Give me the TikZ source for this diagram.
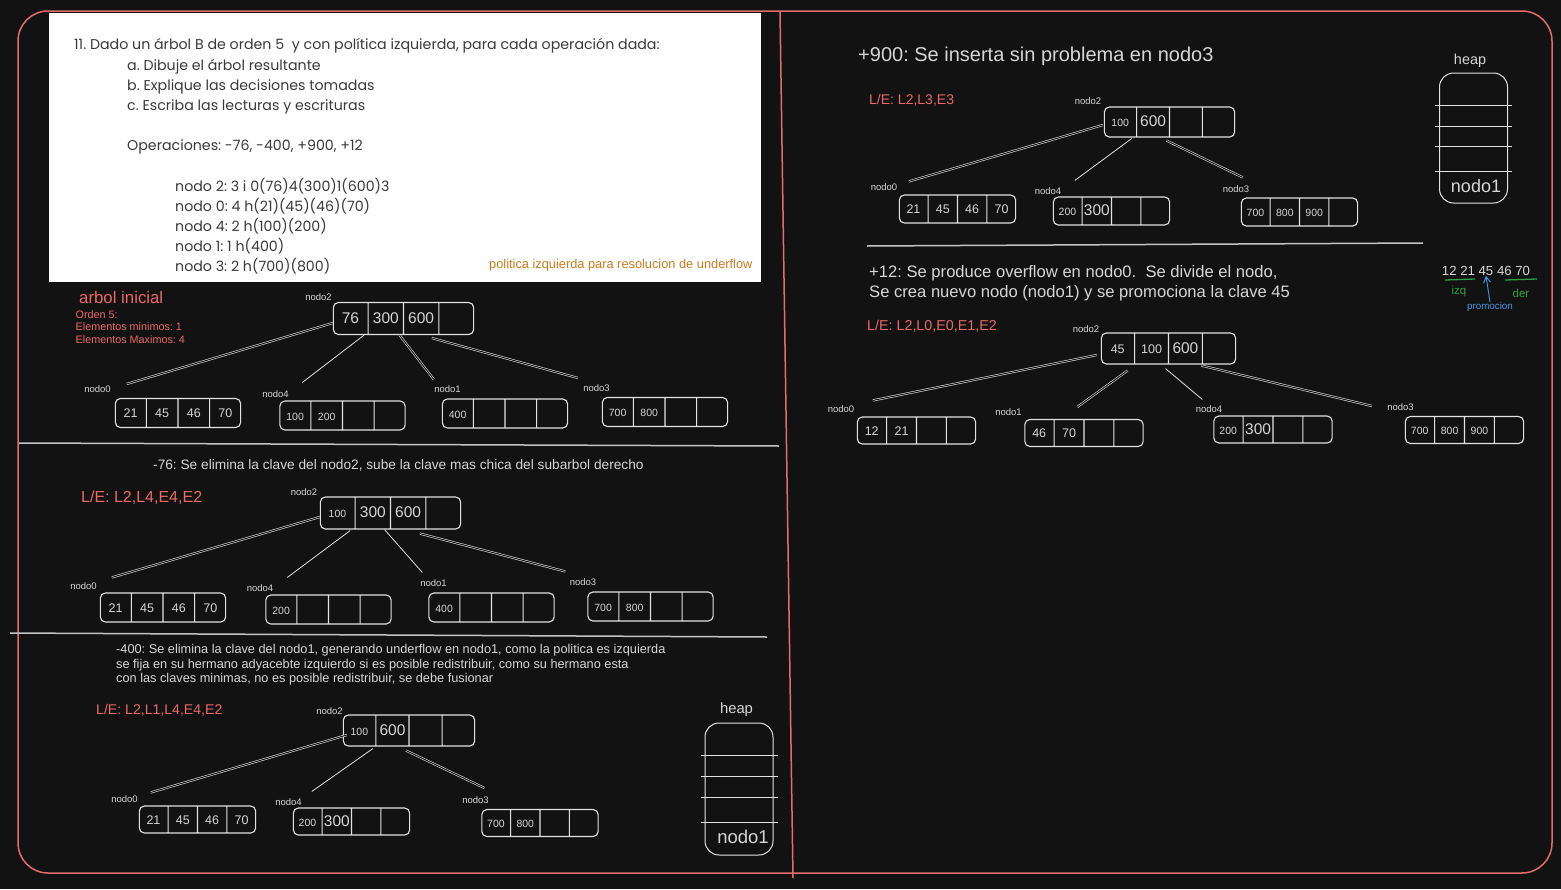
\documentclass[tikz,border=0pt]{standalone}
\usepackage{fontspec}
\setmainfont{Liberation Sans}
\newfontfamily\gotica{Poppins}
\usetikzlibrary{shapes.multipart,calc,arrows.meta}
\frenchspacing

\definecolor{fondo}{RGB}{18,18,18}
\definecolor{trazo}{RGB}{226,226,226}
\definecolor{texto}{RGB}{214,214,214}
\definecolor{rojo}{RGB}{236,104,104}
\definecolor{marcorojo}{RGB}{228,108,108}
\definecolor{verde}{RGB}{47,158,68}
\definecolor{azul}{RGB}{74,150,230}
\definecolor{naranja}{RGB}{204,122,30}
\definecolor{gris}{RGB}{58,58,58}

\newlength\anchoc
\newlength\altoc
% una celda del nodo: ancho y alto fijos, clave centrada
\newcommand{\pcl}[2]{\makebox[\anchoc]{\fontsize{#1}{#1}\selectfont #2}\rule[-\dimexpr0.5\altoc-4.5pt\relax]{0pt}{\altoc}}
\newcommand{\kn}[1]{\pcl{12.5}{#1}}
\newcommand{\kc}[1]{\pcl{10.5}{#1}}
\newcommand{\kg}[1]{\pcl{15.5}{#1}}
\newcommand{\claves}[4]{#1\nodepart{two}#2\nodepart{three}#3\nodepart{four}#4}

\begin{document}
\begin{tikzpicture}[x=1pt, y=-1pt,
    bnodo/.style={rectangle split, rectangle split horizontal,
      rectangle split parts=4, draw=trazo, line width=1.1pt,
      rounded corners=5pt, inner sep=0pt, text=texto},
    celda/.code 2 args={\setlength\anchoc{#1}\setlength\altoc{#2}},
    etiq/.style={text=texto, inner sep=0pt, font=\fontsize{9.5}{9.5}\selectfont},
    arista/.style={draw=trazo, line width=0.8pt},
    aristad/.style={draw=trazo, line width=0.6pt, double=fondo, double distance=1pt},
    rotulo/.style={text=rojo, anchor=west, inner sep=0pt},
    expl/.style={text=texto, anchor=west, inner sep=0pt},
    separa/.style={draw=trazo!85!fondo, line width=1.5pt},
    heapcaja/.style={draw=trazo, line width=1pt, rounded corners=14pt,
      minimum width=68pt, minimum height=132pt, inner sep=0pt},
    enun/.style={text=gris, anchor=west, inner sep=0pt,
      font=\gotica\fontsize{14.2}{20}\selectfont}]
  \useasboundingbox (0,0) rectangle (1561,889);
  \fill[fondo] (0,0) rectangle (1561,889);

  % enunciado
  \fill[white] (49,13) rectangle (761,282);
  \node[enun] (e11) at (74,46) {11. Dado un árbol B de orden 5\ \ y con política izquierda, para cada operación dada:};
  \foreach \y/\t in {67/a. Dibuje el árbol resultante, 87/b. Explique las decisiones tomadas, 107/c. Escriba las lecturas y escrituras}
    \node[enun] (inc\y) at (127,\y) {\t};
  \node[enun] (oper) at (127,147) {Operaciones: -76, -400, +900, +12};
  \foreach \y/\t in {186/nodo 2: 3 i 0(76)4(300)1(600)3, 206/nodo 0: 4 h(21)(45)(46)(70), 226/nodo 4: 2 h(100)(200), 246/nodo 1: 1 h(400), 266/nodo 3: 2 h(700)(800)}
    \node[enun] (reg\y) at (175,\y) {\t};
  \node[anchor=west, inner sep=0pt, text=naranja, font=\fontsize{12.8}{12.8}\selectfont] (polit) at (489,265) {politica izquierda para resolucion de underflow};

  % marco
  \draw[marcorojo, line width=1.5pt, rounded corners=30pt] (18,11) rectangle (1552,873);
  \draw[marcorojo, line width=1.5pt] (780,12) -- (793,878);

  % arbol inicial
  \node[rotulo, font=\fontsize{16.8}{16.8}\selectfont] (tini) at (79,297) {arbol inicial};
  \node[rotulo, anchor=north west, align=left, font=\fontsize{10.8}{12.5}\selectfont] (orden) at (75.5,310) {Orden 5:\\Elementos minimos: 1\\Elementos Maximos: 4};
  \node[bnodo, celda={34.25pt}{32pt}] (a2) at (403.5,318.5) {\claves{\kg{76}}{\kg{300}}{\kg{600}}{\kn{}}};
  \node[bnodo, celda={30.5pt}{29pt}] (a0) at (178,413) {\claves{\kn{21}}{\kn{45}}{\kn{46}}{\kn{70}}};
  \node[bnodo, celda={30.5pt}{29pt}] (a4) at (342.5,415.5) {\claves{\kc{100}}{\kc{200}}{\kn{}}{\kn{}}};
  \node[bnodo, celda={30.5pt}{29pt}] (a1) at (505,413.5) {\claves{\kc{400}}{\kn{}}{\kn{}}{\kn{}}};
  \node[bnodo, celda={30.5pt}{29pt}] (a3) at (665,412) {\claves{\kc{700}}{\kc{800}}{\kn{}}{\kn{}}};
  \node[etiq] (la2) at (318.5,297) {nodo2};
  \node[etiq] (la0) at (97.5,389) {nodo0};
  \node[etiq] (la4) at (275.5,394) {nodo4};
  \node[etiq] (la1) at (447.5,389) {nodo1};
  \node[etiq] (la3) at (596.5,388) {nodo3};
  \draw[aristad] ($(a2.west)+(0,4.5)$) -- ($(a0.north west)+(12,-14)$);
  \draw[arista] ($(a2.south west)!0.25!(a2.south east)+(-4,0)$) -- ($(a4.north west)+(23,-18)$);
  \draw[aristad] ($(a2.south west)!0.5!(a2.south east)+(-4,0)$) -- ($(a1.north west)+(-8,-19)$);
  \draw[aristad] ($(a2.south west)!0.75!(a2.south east)+(-7,3)$) -- ($(a3.north west)+(-24,-19)$);

  % -76
  \draw[separa] (19,443) -- (779,446);
  \node[expl, font=\fontsize{13.7}{13.7}\selectfont] (t76) at (153,465) {-76: Se elimina la clave del nodo2, sube la clave mas chica del subarbol derecho};
  \node[rotulo, font=\fontsize{16}{16}\selectfont] (le76) at (81,498) {L/E: L2,L4,E4,E2};
  \node[bnodo, celda={34.25pt}{32pt}] (b2) at (390.5,513) {\claves{\kc{100}}{\kg{300}}{\kg{600}}{\kn{}}};
  \node[bnodo, celda={30.5pt}{29pt}] (b0) at (163,607.5) {\claves{\kn{21}}{\kn{45}}{\kn{46}}{\kn{70}}};
  \node[bnodo, celda={30.5pt}{29pt}] (b4) at (328.5,609.5) {\claves{\kc{200}}{\kn{}}{\kn{}}{\kn{}}};
  \node[bnodo, celda={30.5pt}{29pt}] (b1) at (491.5,607.5) {\claves{\kc{400}}{\kn{}}{\kn{}}{\kn{}}};
  \node[bnodo, celda={30.5pt}{29pt}] (b3) at (650.5,606.5) {\claves{\kc{700}}{\kc{800}}{\kn{}}{\kn{}}};
  \node[etiq] (lb2) at (304,492) {nodo2};
  \node[etiq] (lb0) at (83.5,586) {nodo0};
  \node[etiq] (lb4) at (260,588) {nodo4};
  \node[etiq] (lb1) at (433.5,583) {nodo1};
  \node[etiq] (lb3) at (583,582) {nodo3};
  \draw[aristad] ($(b2.west)+(0,4)$) -- ($(b0.north west)+(12,-15)$);
  \draw[arista] ($(b2.south west)!0.25!(b2.south east)+(-5,1)$) -- ($(b4.north west)+(22,-17)$);
  \draw[arista] ($(b2.south west)!0.5!(b2.south east)+(-6,0)$) -- ($(b1.north west)+(-6,-20)$);
  \draw[aristad] ($(b2.south west)!0.75!(b2.south east)+(-6,4)$) -- ($(b3.north west)+(-22,-20)$);

  % -400
  \draw[separa] (10,633) -- (767,637);
  \node[expl, anchor=north west, align=left, font=\fontsize{12.75}{14.5}\selectfont] (t400) at (116,644.5) {-400: Se elimina la clave del nodo1, generando underflow en nodo1, como la politica es izquierda\\se fija en su hermano adyacebte izquierdo si es posible redistribuir, como su hermano esta\\con las claves minimas, no es posible redistribuir, se debe fusionar};
  \node[rotulo, font=\fontsize{14.1}{14.1}\selectfont] (le400) at (96,710) {L/E: L2,L1,L4,E4,E2};
  \node[bnodo, celda={32pt}{31pt}] (c2) at (409,730.5) {\claves{\kc{100}}{\kg{600}}{\kn{}}{\kn{}}};
  \node[bnodo, celda={28.25pt}{27pt}] (c0) at (197.5,819.5) {\claves{\kn{21}}{\kn{45}}{\kn{46}}{\kn{70}}};
  \node[bnodo, celda={28.25pt}{27pt}] (c4) at (351.5,821.5) {\claves{\kc{200}}{\kg{300}}{\kn{}}{\kn{}}};
  \node[bnodo, celda={28.25pt}{27pt}] (c3) at (540,823) {\claves{\kc{700}}{\kc{800}}{\kn{}}{\kn{}}};
  \node[etiq] (lc2) at (329.5,711) {nodo2};
  \node[etiq] (lc0) at (124.5,799) {nodo0};
  \node[etiq] (lc4) at (288.5,802) {nodo4};
  \node[etiq] (lc3) at (475.5,800) {nodo3};
  \draw[aristad] ($(c2.west)+(4,4.5)$) -- ($(c0.north west)+(12,-13)$);
  \draw[arista] ($(c2.south west)!0.25!(c2.south east)+(-3,2)$) -- ($(c4.north west)+(19,-16)$);
  \draw[aristad] ($(c2.south west)!0.5!(c2.south east)+(-3,4)$) -- ($(c3.north west)+(3,-21)$);
  \node[expl, anchor=center, font=\fontsize{14.8}{14.8}\selectfont] (th1) at (736.5,710) {heap};
  \node[heapcaja] (hp1) at (739,789) {};
  \foreach \d in {33,54,75,100}
    \draw[trazo, line width=1pt] ($(hp1.north west)+(-4,\d)$) -- ($(hp1.north east)+(4,\d)$);
  \node[expl, anchor=center, font=\fontsize{18.5}{18.5}\selectfont] (nh1) at (743,837) {nodo1};

  % +900
  \node[expl, font=\fontsize{20}{20}\selectfont] (t900) at (858,56) {+900: Se inserta sin problema en nodo3};
  \node[rotulo, font=\fontsize{14}{14}\selectfont] (le900) at (869,100) {L/E: L2,L3,E3};
  \node[bnodo, celda={31.75pt}{30pt}] (d2) at (1169.5,122) {\claves{\kc{100}}{\kg{600}}{\kn{}}{\kn{}}};
  \node[bnodo, celda={28.25pt}{28pt}] (d0) at (957.5,209) {\claves{\kn{21}}{\kn{45}}{\kn{46}}{\kn{70}}};
  \node[bnodo, celda={28.25pt}{28pt}] (d4) at (1111.5,211) {\claves{\kc{200}}{\kg{300}}{\kn{}}{\kn{}}};
  \node[bnodo, celda={28.25pt}{28pt}] (d3) at (1299.5,212) {\claves{\kc{700}}{\kc{800}}{\kc{900}}{\kn{}}};
  \node[etiq] (ld2) at (1088,101) {nodo2};
  \node[etiq] (ld0) at (884,187) {nodo0};
  \node[etiq] (ld4) at (1048,191) {nodo4};
  \node[etiq] (ld3) at (1236,189) {nodo3};
  \draw[aristad] ($(d2.west)+(-1,3)$) -- ($(d0.north west)+(10,-13)$);
  \draw[arista] ($(d2.south west)!0.25!(d2.south east)+(-5,1)$) -- ($(d4.north west)+(22,-16)$);
  \draw[aristad] ($(d2.south west)!0.5!(d2.south east)+(-3,3)$) -- ($(d3.north west)+(2,-20)$);
  \node[expl, anchor=center, font=\fontsize{14.4}{14.4}\selectfont] (th2) at (1470,61) {heap};
  \node[heapcaja, minimum height=130pt] (hp2) at (1473.5,138) {};
  \foreach \d in {33,54,74,99}
    \draw[trazo, line width=1pt] ($(hp2.north west)+(-4,\d)$) -- ($(hp2.north east)+(4,\d)$);
  \node[expl, anchor=center, font=\fontsize{18}{18}\selectfont] (nh2) at (1476,186) {nodo1};
  \draw[separa] (867,246) -- (1423,243);

  % +12
  \node[expl, anchor=north west, align=left, font=\fontsize{16.6}{19.5}\selectfont] (t12) at (869,265.5) {+12: Se produce overflow en nodo0.\ \ Se divide el nodo,\\Se crea nuevo nodo (nodo1) y se promociona la clave 45};
  \node[rotulo, font=\fontsize{14.3}{14.3}\selectfont] (le12) at (867,326) {L/E: L2,L0,E0,E1,E2};
  \node[expl, anchor=center, font=\fontsize{13.2}{13.2}\selectfont] (clv) at (1486,271) {12 21 45 46 70};
  \draw[verde, line width=1.3pt] (1445,280) -- (1475,279);
  \draw[verde, line width=1.3pt] (1505,280) -- (1537,279);
  \node[text=verde, inner sep=0pt, font=\fontsize{11.5}{11.5}\selectfont] (izq) at (1459,292) {izq};
  \node[text=verde, inner sep=0pt, font=\fontsize{11.5}{11.5}\selectfont] (der) at (1521,293) {der};
  \node[text=azul, inner sep=0pt, font=\fontsize{9.8}{9.8}\selectfont] (prom) at (1490,307) {promocion};
  \draw[azul, line width=0.9pt, -{Straight Barb[length=6pt,width=7pt]}] (prom.north) -- (clv.south);
  \node[bnodo, celda={32.75pt}{31pt}] (e2) at (1168.5,348.5) {\claves{\kn{45}}{\kn{100}}{\kg{600}}{\kn{}}};
  \node[bnodo, celda={28.75pt}{27pt}] (e0) at (916.5,430.5) {\claves{\kn{12}}{\kn{21}}{\kn{}}{\kn{}}};
  \node[bnodo, celda={28.75pt}{27pt}] (e1) at (1084,433) {\claves{\kn{46}}{\kn{70}}{\kn{}}{\kn{}}};
  \node[bnodo, celda={28.75pt}{27pt}] (e4) at (1273,429.5) {\claves{\kc{200}}{\kg{300}}{\kn{}}{\kn{}}};
  \node[bnodo, celda={28.75pt}{27pt}] (e3) at (1464.5,430) {\claves{\kc{700}}{\kc{800}}{\kc{900}}{\kn{}}};
  \node[etiq] (le2) at (1086,329) {nodo2};
  \node[etiq] (le0) at (841,409) {nodo0};
  \node[etiq] (le1) at (1008.5,412) {nodo1};
  \node[etiq] (le4) at (1209,409) {nodo4};
  \node[etiq] (le3) at (1400.5,407) {nodo3};
  \draw[aristad] ($(e2.west)+(-4,6.5)$) -- ($(e0.north west)+(16,-16)$);
  \draw[aristad] ($(e2.south west)!0.25!(e2.south east)+(-7,6)$) -- ($(e1.north west)+(53,-12)$);
  \draw[arista] ($(e2.south west)!0.5!(e2.south east)+(-3,4)$) -- ($(e4.north west)+(-11,-16)$);
  \draw[aristad] ($(e2.south west)!0.75!(e2.south east)+(-1,1)$) -- ($(e3.north west)+(-33,-10)$);
\end{tikzpicture}
\end{document}
